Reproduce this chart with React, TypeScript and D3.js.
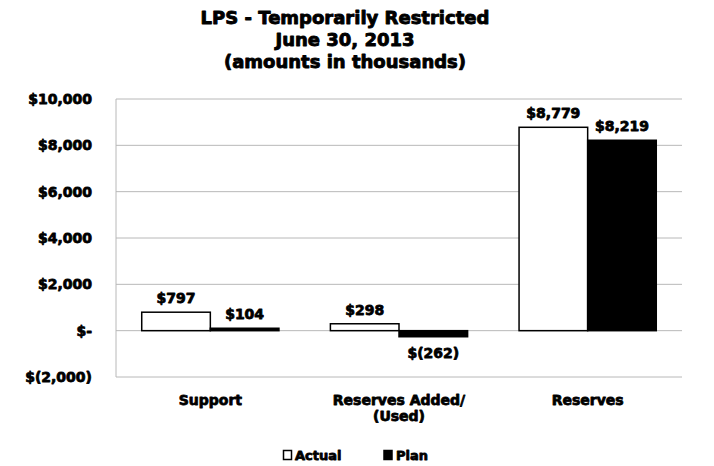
import React from "react";
import * as d3 from "d3";

const categories: string[][] = [["Support"], ["Reserves Added/", "(Used)"], ["Reserves"]];
const categoryKeys = ["Support", "Reserves Added/(Used)", "Reserves"];
const seriesNames = ["Actual", "Plan"];
const actualValues = [797, 298, 8779];
const planValues = [104, -262, 8219];
const tickValues = [-2000, 0, 2000, 4000, 6000, 8000, 10000];
const titleLines = ["LPS - Temporarily Restricted", "June 30, 2013", "(amounts in thousands)"];

const W = 714, H = 466;
const FONT = "'DejaVu Sans', sans-serif";

const fmt = (v: number) => {
  if (v === 0) return "$-";
  const s = d3.format(",")(Math.abs(v));
  return v < 0 ? `$(${s})` : `$${s}`;
};

export default function App() {
  const left = 116, right = 682, top = 99, bottom = 377;
  const y = d3.scaleLinear().domain([-2000, 10000]).range([bottom, top]);
  const x0 = d3.scaleBand().domain(categoryKeys).range([left, right]).padding(0);
  const bw = x0.bandwidth();
  const gap = (bw * 0.75) / 2.75 / 2;
  const x1 = d3.scaleBand().domain(seriesNames).range([gap, bw - gap]).padding(0);
  const series = [actualValues, planValues];
  const fills = ["#ffffff", "#000000"];

  return (
    <svg width={W} height={H} style={{ position: "absolute", left: 0, top: 0, background: "#fff" }} fontFamily={FONT} fontWeight="bold">
      <g stroke="#000" strokeWidth={0.9} strokeLinejoin="round">
        {titleLines.map((t, i) => (
          <text key={i} x={W / 2 - 12} y={24 + i * 22} textAnchor="middle" fontSize={18}>{t}</text>
        ))}
      </g>
      {tickValues.map((t) => (
        <line key={t} x1={left} x2={right} y1={y(t)} y2={y(t)} stroke="#b8b8b8" strokeWidth={1} />
      ))}
      <line x1={left} x2={left} y1={top} y2={bottom} stroke="#b8b8b8" strokeWidth={1} />
      <g stroke="#000" strokeWidth={0.8} strokeLinejoin="round">
        {tickValues.map((t) => (
          <text key={t} x={92} y={y(t) + 5} textAnchor="end" fontSize={14}>{fmt(t)}</text>
        ))}
      </g>
      {categoryKeys.map((c, ci) => (
        <g key={c} transform={`translate(${x0(c)},0)`}>
          {series.map((vals, si) => {
            const v = vals[ci];
            const yTop = y(Math.max(0, v));
            const yBot = y(Math.min(0, v));
            const bx = x1(seriesNames[si])!;
            return (
              <rect key={si} x={bx} y={yTop} width={x1.bandwidth()} height={Math.max(1, yBot - yTop)} fill={fills[si]} stroke="#000" strokeWidth={1.5} />
            );
          })}
          <g stroke="#000" strokeWidth={0.8} strokeLinejoin="round">
            {series.map((vals, si) => {
              const v = vals[ci];
              const yTop = y(Math.max(0, v));
              const yBot = y(Math.min(0, v));
              const cx = x1(seriesNames[si])! + x1.bandwidth() / 2;
              return (
                <text key={si} x={cx} y={v >= 0 ? yTop - 9 : yBot + 21} textAnchor="middle" fontSize={14}>{fmt(v)}</text>
              );
            })}
            {categories[ci].map((line, li) => (
              <text key={li} x={bw / 2} y={405 + li * 16} textAnchor="middle" fontSize={14}>{line}</text>
            ))}
          </g>
        </g>
      ))}
      <rect x={283.5} y={450.5} width={8} height={9} fill="#fff" stroke="#000" strokeWidth={1.5} />
      <rect x={384} y={450.5} width={8} height={9} fill="#000" stroke="#000" strokeWidth={1.5} />
      <g fontSize={13} stroke="#000" strokeWidth={0.8} strokeLinejoin="round">
        <text x={295} y={460}>Actual</text>
        <text x={396} y={460}>Plan</text>
      </g>
    </svg>
  );
}
